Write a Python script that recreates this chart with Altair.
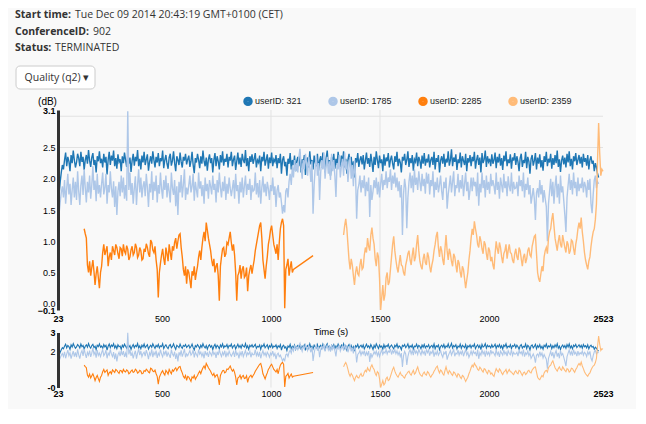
import altair as alt
import pandas as pd

# ---------------- data ----------------
users = ["userID: 321", "userID: 1785", "userID: 2285", "userID: 2359"]
colors = ["#1f77b4", "#aec7e8", "#ff7f0e", "#ffbb78"]

STEP = 5  # sampling step of all series (s)

T0_321 = 23
q_321 = [
    1.55, 1.75, 1.95, 2.1, 2.22, 2.15, 2.3, 2.42, 2.2, 2.35, 2.28, 2.12, 2.38, 2.25, 2.45, 2.3, 2.18, 2.26, 2.4, 2.33,
    2.2, 2.43, 2.27, 2.35, 2.14, 2.3, 2.38, 2.24, 2.46, 2.29, 2.19, 2.34, 2.41, 2.22, 2.3, 2.1, 2.36, 2.28, 2.44, 2.25,
    2.32, 2.18, 2.4, 2.26, 2.35, 2.07, 2.3, 2.43, 2.22, 2.37, 2.29, 2.45, 2.2, 2.33, 2.16, 2.39, 2.27, 2.31, 2.12, 2.36,
    2.25, 2.42, 2.3, 2.19, 2.38, 2.24, 2.34, 2.11, 2.29, 2.4, 2.21, 2.35, 2.28, 2.46, 2.2, 2.32, 2.15, 2.37, 2.26, 2.43,
    2.22, 2.31, 2.39, 2.13, 2.27, 2.36, 2.24, 2.44, 2.3, 2.18, 2.35, 2.26, 2.41, 2.2, 2.33, 2.28, 2.45, 2.17, 2.3, 2.38,
    2.24, 2.16, 2.34, 2.4, 2.21, 2.29, 2.44, 2.25, 2.12, 2.36, 2.3, 2.22, 2.42, 2.27, 2.18, 2.35, 2.29, 2.4, 2.23, 2.31,
    2.37, 2.19, 2.28, 2.43, 2.22, 2.09, 2.33, 2.26, 2.4, 2.3, 2.17, 2.36, 2.24, 2.45, 2.28, 2.2, 2.34, 2.13, 2.31, 2.39,
    2.25, 2.33, 2.1, 2.3, 2.41, 2.2, 2.36, 2.28, 2.15, 2.38, 2.26, 2.44, 2.21, 2.32, 2.27, 2.4, 2.18, 2.35, 2.29, 2.43,
    2.2, 2.31, 2.37, 2.14, 2.28, 2.42, 2.23, 2.34, 2.19, 2.4, 2.3, 2.25, 2.46, 2.2, 2.33, 2.12, 2.36, 2.27, 2.39, 2.24,
    2.32, 2.41, 2.18, 2.3, 2.26, 2.37, 2.12, 2.35, 2.28, 2.43, 2.21, 2.3, 2.39, 2.16, 2.34, 2.25, 2.42, 2.2, 2.31, 2.27,
    2.38, 2.17, 2.33, 2.25, 2.4, 2.08, 2.3, 2.36, 2.2, 2.27, 2.05, 2.32, 2.24, 2.41, 2.15, 2.3, 2.22, 2.37, 2.12, 2.28,
    2.35, 2.2, 2.42, 2.1, 2.31, 2.25, 2.38, 2.06, 2.27, 2.34, 2.18, 2.44, 2.23, 2.3, 2.15, 2.37, 2.26, 2.2, 2.4, 2.13,
    2.29, 2.36, 2.18, 2.42, 2.24, 2.1, 2.33, 2.45, 2.2, 2.3, 2.05, 2.35, 2.26, 2.4, 2.16, 2.32, 2.22, 2.43, 2.28, 2.19,
    2.37, 2.25, 2.44, 2.18, 2.32, 2.08, 2.3, 2.4, 2.22, 2.35, 2.14, 2.28, 2.02, 2.33, 2.26, 2.41, 2.19, 2.3, 2.36, 2.23,
    2.38, 2.15, 2.29, 2.42, 2.24, 2.33, 2.19, 2.4, 2.27, 2.11, 2.35, 2.22, 2.44, 2.3, 2.17, 2.37, 2.25, 2.31, 2.12, 2.39,
    2.21, 2.34, 2.28, 2.41, 2.18, 2.3, 2.37, 2.24, 2.15, 2.36, 2.27, 2.43, 2.2, 2.32, 2.26, 2.1, 2.35, 2.29, 2.4, 2.22,
    2.3, 2.44, 2.19, 2.33, 2.25, 2.38, 2.13, 2.31, 2.27, 2.42, 2.2, 2.35, 2.29, 2.16, 2.37, 2.24, 2.41, 2.21, 2.32, 2.26,
    2.39, 2.18, 2.3, 2.35, 2.22, 2.43, 2.15, 2.33, 2.27, 2.38, 2.1, 2.29, 2.36, 2.24, 2.4, 2.19, 2.32, 2.26, 2.44, 2.21,
    2.3, 2.47, 2.2, 2.34, 2.27, 2.39, 2.14, 2.31, 2.25, 2.42, 2.18, 2.36, 2.29, 2.22, 2.4, 2.12, 2.33, 2.26, 2.38, 2.2,
    2.35, 2.28, 2.43, 2.16, 2.3, 2.38, 2.22, 2.34, 2.1, 2.41, 2.25, 2.31, 2.45, 2.19, 2.36, 2.27, 2.32, 2.2, 2.39, 2.24,
    2.3, 2.42, 2.17, 2.35, 2.26, 2.4, 2.21, 2.33, 2.14, 2.37, 2.28, 2.44, 2.2, 2.31, 2.25, 2.39, 2.16, 2.34, 2.29, 2.41,
    2.22, 2.36, 2.27, 2.12, 2.33, 2.4, 2.19, 2.3, 2.25, 2.43, 2.17, 2.35, 2.28, 2.08, 2.32, 2.38, 2.21, 2.29, 2.41, 2.15,
    2.34, 2.24, 2.39, 2.18, 2.3, 2.13, 2.36, 2.27, 2.43, 2.2, 2.32, 2.26, 2.4, 2.16, 2.33, 2.22, 2.38, 2.25, 2.45, 2.19,
    2.31, 2.11, 2.29, 2.37, 2.23, 2.34, 2.18, 2.4, 2.26, 2.44, 2.2, 2.32, 2.15, 2.36, 2.28, 2.41, 2.22, 2.3, 2.38, 2.24,
    2.35, 2.18, 2.4, 2.27, 2.33, 2.21, 2.38, 2.15, 2.3, 2.36, 2.24, 2.29, 2.12, 2.25, 2.18, 2.08, 2.02,
]

T0_1785 = 23
q_1785 = [
    1.3, 1.45, 1.62, 1.78, 1.88, 1.7, 1.98, 1.6, 1.85, 2.08, 1.75, 1.92, 1.58, 1.82, 2.02, 1.7, 1.95, 1.66, 2.12, 1.8,
    1.58, 1.9, 2.05, 1.74, 2.15, 1.86, 1.62, 1.95, 1.78, 2.05, 1.68, 1.9, 2.2, 1.82, 1.97, 1.64, 2.08, 1.76, 1.9, 1.7,
    1.92, 2.1, 1.75, 1.86, 2.08, 1.6, 1.9, 1.78, 2.12, 1.84, 1.7, 1.96, 1.55, 1.88, 1.42, 1.8, 1.95, 1.72, 2.05, 1.78,
    2.02, 1.68, 1.9, 1.65, 3.08, 1.82, 2.1, 1.74, 1.93, 1.6, 1.85, 2.04, 1.58, 1.9, 2.15, 1.78, 2.02, 1.7, 1.88, 1.96,
    1.72, 2.08, 1.86, 1.55, 1.92, 1.78, 2.12, 1.66, 1.95, 1.8, 2.05, 1.62, 1.9, 1.76, 2.1, 1.84, 1.68, 1.98, 1.82, 2.05,
    1.7, 1.93, 1.8, 1.62, 2.1, 1.85, 1.74, 1.98, 1.56, 1.88, 1.42, 1.95, 1.78, 2.06, 1.7, 1.9, 2.15, 1.66, 1.86, 1.75,
    1.9, 2.05, 1.78, 1.88, 2.08, 1.65, 1.95, 1.82, 1.7, 2.1, 1.84, 1.96, 1.72, 1.9, 1.6, 2.02, 1.8, 1.92, 1.68, 1.98,
    1.88, 1.75, 2.05, 1.82, 1.92, 1.62, 1.98, 1.78, 2.1, 1.86, 1.7, 1.95, 1.8, 2.04, 1.66, 1.92, 1.76, 2.02, 1.85, 1.72,
    1.85, 1.98, 1.68, 2.08, 1.8, 1.9, 1.6, 1.95, 1.78, 2.02, 1.7, 1.88, 2.05, 1.74, 1.92, 1.82, 2.0, 1.66, 1.9, 1.8,
    1.82, 2.1, 1.75, 1.93, 1.7, 1.98, 1.6, 1.86, 2.04, 1.78, 1.92, 1.72, 1.95, 1.84, 1.66, 1.9, 1.8, 2.02, 1.74, 1.88,
    1.55, 1.82, 1.9, 1.7, 1.78, 1.62, 1.44, 1.58, 1.46, 1.8, 1.85, 1.7, 1.96, 2.08, 1.9, 2.2, 2.02, 2.3, 2.12, 2.25,
    2.1, 2.35, 2.48, 2.2, 2.0, 2.3, 2.15, 2.4, 2.25, 2.05, 2.35, 2.18, 1.95, 2.28, 1.44, 1.9, 2.2, 2.38, 2.05, 2.25,
    1.66, 2.1, 2.3, 2.15, 2.42, 2.0, 2.22, 2.35, 2.08, 2.28, 1.98, 2.4, 2.12, 2.3, 2.05, 1.71, 2.25, 2.15, 2.38, 2.02,
    2.2, 2.32, 2.05, 2.42, 2.15, 2.28, 1.95, 2.18, 2.35, 2.0, 2.22, 1.88, 2.3, 2.05, 1.36, 1.82, 1.9, 2.05, 1.78, 1.98,
    1.85, 2.05, 1.72, 1.95, 1.8, 2.02, 1.39, 1.9, 1.66, 1.8, 1.98, 1.85, 2.02, 1.75, 1.95, 1.7, 1.92, 2.08, 1.82, 1.98,
    1.9, 2.12, 1.85, 2.02, 1.95, 2.15, 1.82, 2.05, 1.92, 2.1, 1.86, 2.02, 1.8, 1.96, 1.7, 1.9, 1.1, 1.75, 2.0, 1.85,
    1.21, 1.7, 1.95, 2.1, 1.85, 2.05, 1.78, 2.15, 1.9, 2.02, 1.82, 2.12, 1.95, 1.8, 2.08, 1.88, 2.0, 1.76, 2.1, 1.92,
    2.08, 1.75, 1.98, 1.88, 2.12, 1.7, 1.95, 1.82, 2.02, 1.78, 1.9, 2.05, 1.8, 1.66, 1.95, 1.85, 2.02, 1.52, 1.75, 1.9,
    2.05, 1.78, 1.95, 2.12, 1.72, 1.9, 1.85, 2.08, 1.78, 1.98, 1.84, 2.06, 1.72, 1.92, 2.1, 1.8, 1.95, 1.66, 1.82, 2.02,
    1.8, 2.02, 1.88, 1.95, 1.72, 2.1, 1.57, 1.92, 1.78, 2.1, 1.85, 1.98, 1.7, 2.05, 1.82, 1.95, 1.76, 2.08, 1.88, 1.98,
    1.88, 1.75, 2.1, 1.82, 1.95, 1.68, 2.02, 1.9, 1.78, 2.08, 1.85, 1.96, 1.72, 2.04, 1.88, 1.8, 2.1, 1.76, 1.95, 1.84,
    1.85, 1.95, 1.72, 2.05, 1.88, 1.98, 1.8, 2.1, 1.7, 1.92, 1.82, 2.02, 1.75, 1.9, 1.6, 1.72, 1.85, 1.68, 1.34, 1.78,
    1.85, 1.7, 1.98, 1.75, 1.9, 1.62, 1.82, 1.68, 1.55, 1.0, 1.6, 1.8, 2.0, 1.72, 1.95, 1.6, 1.88, 2.05, 1.7, 1.92,
    1.6, 2.05, 1.78, 1.88, 1.65, 1.42, 1.15, 1.7, 1.9, 2.08, 1.82, 1.98, 1.75, 2.1, 1.85, 1.95, 1.72, 2.02, 1.8, 1.92,
    1.85, 2.02, 1.78, 1.95, 1.88, 1.7, 1.98, 1.82, 2.0, 1.6, 1.45, 1.75, 1.98, 2.05, 1.85, 1.95, 1.92,
]

T0_2285 = 143
q_2285 = [
    1.2, 1.12, 1.05, 0.62, 0.5, 0.68, 0.45, 0.58, 0.7, 0.52, 0.3, 0.48, 0.6, 0.42, 0.25, 0.5, 0.6, 0.82, 0.95, 0.78,
    0.85, 0.92, 0.6, 0.75, 0.82, 0.7, 0.92, 0.85, 0.78, 0.95, 0.9, 0.8, 0.72, 0.9, 0.88, 0.76, 0.95, 0.84, 0.8, 0.93,
    0.87, 0.7, 0.75, 0.86, 0.92, 0.78, 0.82, 0.96, 0.9, 0.74, 0.78, 0.9, 0.85, 0.7, 0.72, 0.88, 0.83, 0.96, 0.9, 0.8,
    0.75, 1.02, 0.98, 0.86, 0.82, 0.92, 0.7, 0.55, 0.1, 0.5, 0.65, 0.78, 0.88, 0.72, 0.62, 0.9, 0.8, 0.68, 0.95, 0.82,
    0.7, 0.92, 0.85, 0.98, 1.05, 0.88, 1.0, 1.1, 1.12, 0.9, 0.75, 0.55, 0.45, 0.6, 0.32, 0.55, 0.5, 0.38, 0.25, 0.52,
    0.45, 0.6, 0.38, 0.5, 0.6, 0.75, 0.85, 0.7, 0.9, 1.05, 1.15, 1.0, 1.3, 1.18, 1.05, 0.95, 0.85, 0.7, 0.6, 0.72,
    0.5, 0.6, 0.65, 0.45, 0.05, 0.6, 0.75, 0.88, 0.9, 0.75, 0.8, 0.98, 0.95, 1.05, 1.15, 0.98, 0.85, 0.95, 0.78, 0.5,
    0.05, 0.45, 0.5, 0.62, 0.4, 0.55, 0.6, 0.42, 0.45, 0.58, 0.2, 0.45, 0.55, 0.62, 0.48, 0.6, 0.7, 0.85, 0.95, 1.05,
    1.15, 1.25, 1.3, 1.05, 0.7, 0.55, 0.4, 0.6, 0.75, 0.95, 1.05, 1.18, 1.25, 1.1, 0.95, 0.88, 0.8, 0.95, 0.7, 0.98,
    1.2, 1.3, 1.36, 1.25, -0.07, 0.55, 0.62, 0.72, 0.45, 0.58, 0.68, 0.5, 0.55,
]
t_2285_last = [1193]
q_2285_last = [0.77]

T0_2359 = 1333
q_2359 = [
    1.1, 1.25, 1.36, 1.2, 0.95, 0.7, 0.55, 0.72, 0.62, 0.45, 0.3, 0.5, 0.6, 0.48, 0.45, 0.62, 0.72, 0.55, 0.58, 0.78,
    0.9, 0.82, 1.05, 0.92, 0.85, 1.1, 1.22, 1.05, 0.95, 0.72, 0.6, 0.82, 0.75, 0.4, -0.1, 0.1, 0.3, 0.05, 0.15, 0.42,
    0.5, 0.3, 0.35, 0.55, 0.75, 0.95, 1.08, 0.85, 0.7, 0.58, 0.5, 0.65, 0.78, 0.62, 0.6, 0.5, 0.45, 0.62, 0.7, 0.8,
    0.85, 0.7, 0.62, 0.78, 0.9, 0.68, 0.75, 0.95, 1.1, 0.85, 0.68, 0.6, 0.55, 0.72, 0.8, 0.66, 0.62, 0.82, 0.75, 0.6,
    0.5, 0.62, 0.7, 0.85, 0.95, 1.08, 1.15, 0.9, 0.75, 0.92, 0.85, 0.7, 0.62, 0.88, 1.1, 0.85, 0.7, 0.88, 0.8, 0.68,
    0.6, 0.8, 0.75, 0.62, 0.5, 0.7, 0.65, 0.5, 0.42, 0.6, 0.55, 0.4, 0.25, 0.38, 0.5, 0.7, 0.85, 1.05, 1.2, 1.1,
    1.32, 1.2, 1.1, 0.95, 0.9, 1.08, 1.0, 0.88, 0.8, 1.0, 0.95, 0.8, 0.7, 0.9, 0.85, 0.68, 0.75, 0.62, 0.55, 0.8,
    1.0, 0.88, 0.8, 0.98, 0.9, 0.75, 0.65, 0.8, 0.85, 0.95, 0.72, 0.85, 0.95, 0.82, 0.8, 0.7, 0.65, 0.8, 0.88, 0.75,
    0.7, 0.9, 0.85, 0.72, 0.6, 0.75, 0.8, 0.65, 0.72, 0.85, 0.9, 0.78, 0.75, 0.92, 1.0, 1.08, 1.1, 0.8, 0.5, 0.4,
    0.35, 0.48, 0.6, 0.52, 0.75, 0.85, 0.9, 0.8, 1.05, 1.15, 1.2, 1.35, 1.45, 1.25, 1.05, 0.95, 0.85, 1.0, 1.1, 0.95,
    0.9, 1.1, 1.0, 0.9, 0.82, 1.0, 0.95, 0.8, 0.85, 1.02, 1.0, 0.88, 0.78, 0.95, 1.05, 1.2, 1.3, 1.2, 1.38, 1.15,
    1.0, 0.82, 0.7, 0.62, 0.55, 0.68, 0.75, 0.92, 1.05, 1.15, 1.2, 1.35, 1.6, 2.3, 2.89, 2.4, 2.05, 2.15, 2.12,
]

x_ticks = [23, 500, 1000, 1500, 2000, 2523]
y_ticks = [-0.1, 0.0, 0.5, 1.0, 1.5, 2.0, 2.5, 3.1]
y_ticks_ctx = [-0.1, 2, 3.1]
grid_x = [1000, 1500]
grid_y = [3.0, 2.5]

header_labels = ["Start time:", "ConferenceID:", "Status:"]
header_values = ["Tue Dec 09 2014 20:43:19 GMT+0100 (CET)", "902", "TERMINATED"]
button_text = "Quality (q2) \u25BE"


def series(name, t0, vals, extra_t=(), extra_v=()):
    ts = [t0 + STEP * i for i in range(len(vals))] + list(extra_t)
    return pd.DataFrame({"t": ts, "q": list(vals) + list(extra_v), "user": name})


df = pd.concat([
    series(users[0], T0_321, q_321),
    series(users[1], T0_1785, q_1785),
    series(users[2], T0_2285, q_2285, t_2285_last, q_2285_last),
    series(users[3], T0_2359, q_2359),
], ignore_index=True)

# ---------------- layout constants ----------------
W, H = 545, 200
CTX_TOP, CTX_BOT = 222.5, 277.5
XDOM = [23, 2523]
YDOM = [-0.1, 3.1]
LABEL_FONT = "Liberation Sans"
HEAD_FONT = "Open Sans"


def xscale():
    return alt.Scale(domain=XDOM, nice=False, zero=False)


def yscale_main():
    return alt.Scale(domain=YDOM, nice=False, zero=False)


def yscale_ctx():
    return alt.Scale(domain=YDOM, nice=False, zero=False, range=[CTX_BOT, CTX_TOP])


xbold = {"condition": {"test": "datum.value == 23 || datum.value == 2523", "value": "bold"},
         "value": "normal"}
ybold = {"condition": {"test": "datum.value < 0 || datum.value > 3", "value": "bold"},
         "value": "normal"}

color_scale = alt.Scale(domain=users, range=colors)

# gridlines
grid_v_main = alt.Chart(pd.DataFrame({"gx": grid_x})).mark_rule(color="#e2e2e2", strokeWidth=1).encode(
    x=alt.X("gx:Q", scale=xscale(), axis=None)
)
grid_h_main = alt.Chart(pd.DataFrame({"gy": grid_y})).mark_rule(color="#e2e2e2", strokeWidth=1).encode(
    y=alt.Y("gy:Q", scale=yscale_main(), axis=None)
)
grid_v_ctx = alt.Chart(pd.DataFrame({"gx": grid_x})).mark_rule(color="#e2e2e2", strokeWidth=1).encode(
    x=alt.X("gx:Q", scale=xscale(), axis=None),
    y=alt.YDatum(YDOM[0], scale=yscale_ctx(), axis=None),
    y2=alt.Y2Datum(YDOM[1]),
)

main_lines = alt.Chart(df).mark_line(strokeWidth=1.4, clip=False).encode(
    x=alt.X("t:Q", scale=xscale(), axis=alt.Axis(
        values=x_ticks, format="d", domain=False, ticks=False, tickSize=0, grid=False,
        labelPadding=4, labelFontSize=9, labelFont=LABEL_FONT, labelColor="#000",
        labelFontWeight=xbold, labelFlush=False, labelOverlap=False,
        title="Time (s)", titleFont=LABEL_FONT, titleFontSize=9.5, titleFontWeight="normal",
        titleColor="#000", titlePadding=3)),
    y=alt.Y("q:Q", scale=yscale_main(), axis=alt.Axis(
        orient="left", values=y_ticks, format=".1f", domainColor="#333", domainWidth=3,
        ticks=False, tickSize=0, grid=False, labelPadding=3, labelFontSize=9,
        labelFont=LABEL_FONT, labelColor="#000", labelFontWeight=ybold, zindex=1,
        labelOverlap=False, labelFlush=False,
        title="(dB)", titleAngle=0, titleX=-11, titleY=-8.5, titleAlign="center",
        titleBaseline="middle", titleFont=LABEL_FONT, titleFontSize=10,
        titleFontWeight="normal", titleColor="#000")),
    color=alt.Color("user:N", scale=color_scale, legend=alt.Legend(
        orient="none", legendX=185, legendY=-14, direction="horizontal", title=None,
        symbolType="circle", symbolSize=20, symbolStrokeWidth=5, symbolOpacity=1,
        labelFont=LABEL_FONT, labelFontSize=9, labelColor="#222", labelOffset=2,
        columnPadding=18, padding=0)),
)

ctx_lines = alt.Chart(df).mark_line(strokeWidth=1.1, clip=False).encode(
    x=alt.X("t:Q", scale=xscale(), axis=alt.Axis(
        orient="bottom", offset=CTX_BOT - H, values=x_ticks, format="d", domain=False,
        ticks=False, tickSize=0, grid=False, labelPadding=2, labelFontSize=9,
        labelFont=LABEL_FONT, labelColor="#000", labelFontWeight=xbold,
        labelFlush=False, labelOverlap=False, title=None)),
    y=alt.Y("q:Q", scale=yscale_ctx(), axis=alt.Axis(
        orient="left", values=y_ticks_ctx,
        labelExpr="datum.value < 0 ? '-0' : format(datum.value, 'd')",
        domainColor="#333", domainWidth=3, ticks=False, tickSize=0, grid=False,
        labelPadding=3, labelFontSize=9, labelFont=LABEL_FONT, labelColor="#000",
        labelFontWeight=ybold, zindex=1, labelOverlap=False, labelFlush=False, title=None)),
    color=alt.Color("user:N", scale=color_scale, legend=None),
)

one = pd.DataFrame({"_": [0]})


def txt(text, x, y, bold=False, align="left"):
    return alt.Chart(one).mark_text(
        text=text, font=HEAD_FONT, fontSize=10.5, fontWeight="bold" if bold else "normal",
        color="#333", align=align, baseline="middle").encode(x=alt.value(x), y=alt.value(y))


header = [
    txt(header_labels[0], -43, -95, bold=True), txt(header_values[0], 17, -95),
    txt(header_labels[1], -43, -78, bold=True), txt(header_values[1], 35, -78),
    txt(header_labels[2], -43, -62, bold=True), txt(header_values[2], -3, -62),
]
button = alt.Chart(one).mark_rect(fill="white", stroke="#cccccc", strokeWidth=1, cornerRadius=4).encode(
    x=alt.value(-42), x2=alt.value(37), y=alt.value(-44), y2=alt.value(-21)
)
button_label = txt(button_text, -1, -32.5, align="center")

chart = alt.layer(
    grid_v_main, grid_h_main, grid_v_ctx, main_lines, ctx_lines,
    *header, button, button_label
).resolve_scale(
    x="independent", y="independent"
).resolve_axis(
    x="independent", y="independent"
).properties(
    width=W, height=H, background="#f9f9f9",
    padding={"left": 7, "top": 2, "right": 22, "bottom": 10},
).configure_view(stroke=None)

chart.save("out.html", embed_options={"renderer": "svg", "actions": False})
